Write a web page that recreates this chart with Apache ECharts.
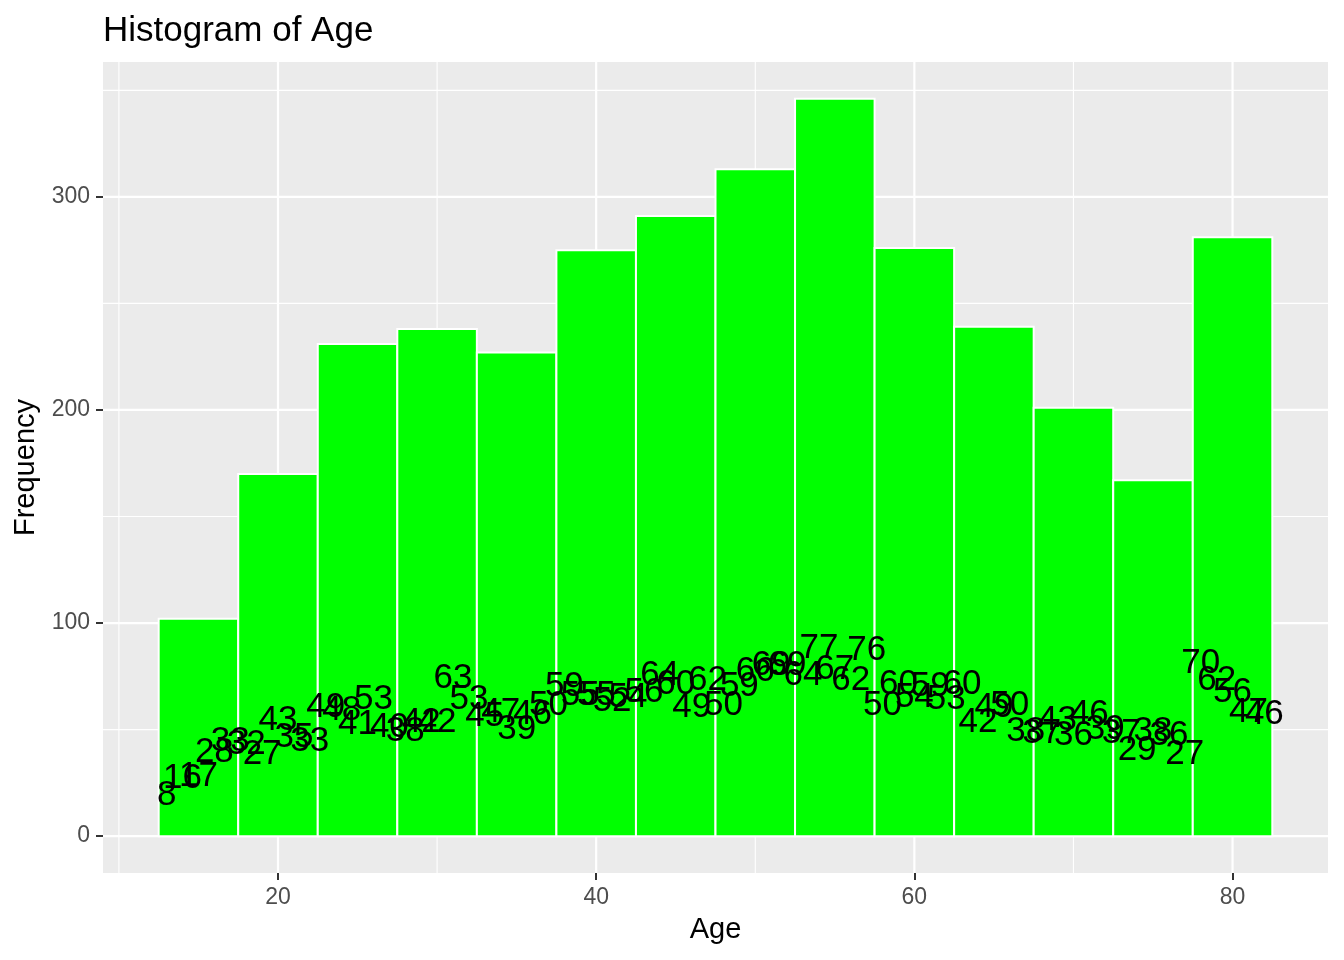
<!DOCTYPE html>
<html>
<head>
<meta charset="utf-8">
<script src="https://cdn.jsdelivr.net/npm/echarts@6/dist/echarts.min.js"></script>
<style>
  html, body { margin: 0; padding: 0; background: #FFFFFF; }
  #chart { width: 1344px; height: 960px; }
</style>
</head>
<body>
<div id="chart"></div>
<script>
// ---- data ----
const binEdges = [12.5, 17.5, 22.5, 27.5, 32.5, 37.5, 42.5, 47.5, 52.5, 57.5, 62.5, 67.5, 72.5, 77.5, 82.5];
const binCounts = [102, 170, 231, 238, 227, 275, 291, 313, 346, 276, 239, 201, 167, 281];

const ages = [13, 14, 15, 16, 17, 18, 19, 20, 21, 22, 23, 24, 25, 26, 27, 28, 29, 30, 31, 32,
              33, 34, 35, 36, 37, 38, 39, 40, 41, 42, 43, 44, 45, 46, 47, 48, 49, 50, 51, 52,
              53, 54, 55, 56, 57, 58, 59, 60, 61, 62, 63, 64, 65, 66, 67, 68, 69, 70, 71, 72,
              73, 74, 75, 76, 77, 78, 79, 80, 81, 82];
const ageCounts = [8, 16, 17, 28, 33, 32, 27, 43, 35, 33, 49, 48, 41, 53, 40, 38, 42, 42, 63, 53,
                   45, 47, 39, 46, 50, 59, 55, 55, 52, 54, 56, 64, 60, 49, 62, 50, 59, 66, 69, 69,
                   64, 77, 67, 62, 76, 50, 60, 54, 59, 53, 60, 42, 49, 50, 38, 37, 43, 36, 46, 39,
                   37, 29, 38, 36, 27, 70, 62, 56, 47, 46];

const xMajor = [20, 40, 60, 80];
const xMinor = [10, 30, 50, 70];
const yMajor = [0, 100, 200, 300];
const yMinor = [50, 150, 250, 350];

const FONT = '"Liberation Sans", Arial, Helvetica, sans-serif';

const chart = echarts.init(document.getElementById('chart'), null, { renderer: 'canvas' });

const vGridData = xMajor.map(v => [v, 1]).concat(xMinor.map(v => [v, 0]));
const hGridData = yMajor.map(v => [1, v]).concat(yMinor.map(v => [0, v]));

const histData = binCounts.map((c, i) => [binEdges[i], binEdges[i + 1], c]);
const labelData = ages.map((a, i) => [a, ageCounts[i]]);

const option = {
  animation: false,
  backgroundColor: '#FFFFFF',
  title: {
    text: 'Histogram of Age',
    left: 103,
    top: 14,
    padding: 0,
    textStyle: { fontSize: 35, fontWeight: 'normal', color: '#000000', fontFamily: FONT }
  },
  grid: {
    left: 103, right: 16, top: 62, bottom: 87,
    show: true, backgroundColor: '#EBEBEB', borderWidth: 0
  },
  xAxis: {
    type: 'value',
    min: 9, max: 86,
    name: 'Age',
    nameLocation: 'middle',
    nameGap: 42,
    nameTextStyle: { color: '#000000', fontSize: 29, fontFamily: FONT },
    axisLine: { show: false, onZero: false },
    axisTick: { show: true, length: 7, customValues: xMajor, lineStyle: { color: '#333333', width: 2 } },
    axisLabel: { customValues: xMajor, color: '#4D4D4D', fontSize: 23, margin: 13, fontFamily: FONT },
    splitLine: { show: false },
    minorTick: { show: false },
    minorSplitLine: { show: false }
  },
  yAxis: {
    type: 'value',
    min: -17.3, max: 363.3,
    name: 'Frequency',
    nameLocation: 'middle',
    nameGap: 55,
    nameRotate: 90,
    nameTextStyle: { color: '#000000', fontSize: 29, fontFamily: FONT },
    axisLine: { show: false, onZero: false },
    axisTick: { show: true, length: 7, customValues: yMajor, lineStyle: { color: '#333333', width: 2 } },
    axisLabel: { customValues: yMajor, color: '#4D4D4D', fontSize: 23, margin: 13, fontFamily: FONT },
    splitLine: { show: false },
    minorTick: { show: false },
    minorSplitLine: { show: false }
  },
  series: [
    {
      type: 'custom',
      name: 'vgrid',
      z: 1,
      silent: true,
      data: vGridData,
      encode: { x: 0, y: 1 },
      renderItem: function (params, api) {
        const cs = params.coordSys;
        const p = api.coord([api.value(0), 0]);
        const major = api.value(1) === 1;
        return {
          type: 'line',
          shape: { x1: p[0], y1: cs.y, x2: p[0], y2: cs.y + cs.height },
          style: { stroke: '#FFFFFF', lineWidth: major ? 2.2 : 1.1 }
        };
      }
    },
    {
      type: 'custom',
      name: 'hgrid',
      z: 1,
      silent: true,
      data: hGridData,
      encode: { x: 0, y: 1 },
      renderItem: function (params, api) {
        const cs = params.coordSys;
        const p = api.coord([20, api.value(1)]);
        const major = api.value(0) === 1;
        return {
          type: 'line',
          shape: { x1: cs.x, y1: p[1], x2: cs.x + cs.width, y2: p[1] },
          style: { stroke: '#FFFFFF', lineWidth: major ? 2.2 : 1.1 }
        };
      }
    },
    {
      type: 'custom',
      name: 'histogram',
      z: 2,
      data: histData,
      encode: { x: [0, 1], y: 2 },
      renderItem: function (params, api) {
        const p0 = api.coord([api.value(0), 0]);
        const p1 = api.coord([api.value(1), api.value(2)]);
        return {
          type: 'rect',
          shape: { x: p0[0], y: p1[1], width: p1[0] - p0[0], height: p0[1] - p1[1] },
          style: { fill: '#00FF00', stroke: '#FFFFFF', lineWidth: 2 }
        };
      }
    },
    {
      type: 'custom',
      name: 'labels',
      z: 3,
      data: labelData,
      encode: { x: 0, y: 1 },
      renderItem: function (params, api) {
        const p = api.coord([api.value(0), api.value(1)]);
        return {
          type: 'text',
          x: p[0],
          y: p[1] - 24,
          style: {
            text: String(api.value(1)),
            fill: '#000000',
            font: '35px ' + FONT,
            align: 'center',
            verticalAlign: 'middle'
          }
        };
      }
    }
  ]
};

chart.setOption(option);
</script>
</body>
</html>
